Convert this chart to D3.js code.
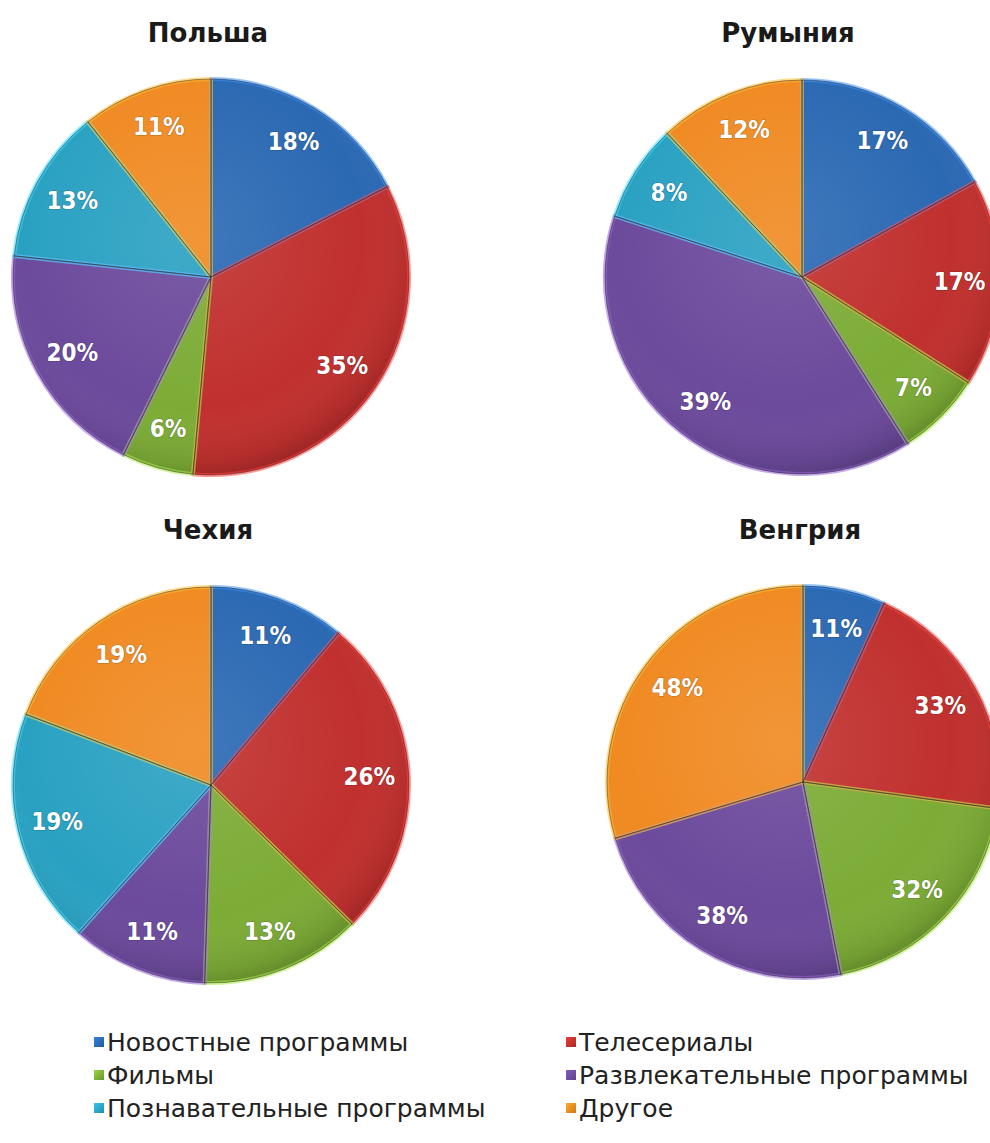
<!DOCTYPE html>
<html lang="ru">
<head>
<meta charset="utf-8">
<title>Структура телепросмотра</title>
<script src="https://cdn.jsdelivr.net/npm/d3@7"></script>
<style>
  html, body { margin: 0; padding: 0; background: #ffffff; }
  svg { display: block; }
</style>
</head>
<body>
<svg id="chart" width="990" height="1143"></svg>
<script>
// Жанры (порядок секторов по часовой стрелке от 12 часов)
const categories = [
  "Новостные программы",
  "Телесериалы",
  "Фильмы",
  "Развлекательные программы",
  "Познавательные программы",
  "Другое"
];
const categoryColors = ["#2b69b3", "#c0302e", "#7cac36", "#6c4a9c", "#2aa1c2", "#f08a22"];

const countries = ["Польша", "Румыния", "Чехия", "Венгрия"];

// Доли жанров, %
const polandValues  = [18, 35, 6, 20, 13, 11];
const romaniaValues = [17, 17, 7, 39, 8, 12];
const czechValues   = [11, 26, 13, 11, 19, 19];
const hungaryValues = [11, 33, 32, 38, 0, 48];

const seriesByCountry = [polandValues, romaniaValues, czechValues, hungaryValues];

// Расположение панелей
const panels = [
  { cx: 211, cy: 277, r: 198, tx: 208, ty: 42 },
  { cx: 802, cy: 277, r: 197, tx: 788, ty: 42 },
  { cx: 211, cy: 785, r: 198, tx: 208, ty: 539 },
  { cx: 803, cy: 782, r: 196, tx: 800, ty: 539 }
];

const svg = d3.select("#chart");
const defs = svg.append("defs");

// Общая подсветка/затенение круга
const shade = defs.append("radialGradient")
  .attr("id", "pieShade")
  .attr("cx", "45%").attr("cy", "40%").attr("r", "62%");
shade.append("stop").attr("offset", "0%").attr("stop-color", "#ffffff").attr("stop-opacity", 0.10);
shade.append("stop").attr("offset", "70%").attr("stop-color", "#ffffff").attr("stop-opacity", 0.0);
shade.append("stop").attr("offset", "92%").attr("stop-color", "#000000").attr("stop-opacity", 0.08);
shade.append("stop").attr("offset", "100%").attr("stop-color", "#000000").attr("stop-opacity", 0.22);

// Градиенты для маркеров легенды
categoryColors.forEach((c, i) => {
  const g = defs.append("linearGradient")
    .attr("id", "lg" + i).attr("x1", 0).attr("y1", 0).attr("x2", 1).attr("y2", 1);
  g.append("stop").attr("offset", "0%").attr("stop-color", d3.color(c).brighter(0.6));
  g.append("stop").attr("offset", "100%").attr("stop-color", d3.color(c).darker(0.4));
});

const color = d3.scaleOrdinal().domain(categories).range(categoryColors);

const pie = d3.pie().sort(null).value(d => d.value);

countries.forEach((name, k) => {
  const p = panels[k];
  const data = categories.map((c, i) => ({ category: c, value: seriesByCountry[k][i] }));
  const arcs = pie(data).filter(a => a.data.value > 0);

  const arc = d3.arc().innerRadius(0).outerRadius(p.r);
  const labelArc = d3.arc().innerRadius(p.r * 0.8).outerRadius(p.r * 0.8);

  const g = svg.append("g").attr("transform", `translate(${p.cx},${p.cy})`);

  // Основные сектора
  g.selectAll("path.slice")
    .data(arcs)
    .join("path")
    .attr("class", "slice")
    .attr("d", arc)
    .attr("fill", d => color(d.data.category));

  // Затенение всего круга
  g.append("circle").attr("r", p.r).attr("fill", "url(#pieShade)");

  // Светлая фаска по краям секторов
  g.selectAll("path.bevel")
    .data(arcs)
    .join("path")
    .attr("class", "bevel")
    .attr("d", arc)
    .attr("fill", "none")
    .attr("stroke", d => d3.color(color(d.data.category)).brighter(0.9))
    .attr("stroke-opacity", 0.55)
    .attr("stroke-width", 4)
    .attr("stroke-linejoin", "round");

  // Тонкие тёмные границы
  g.selectAll("path.edge")
    .data(arcs)
    .join("path")
    .attr("class", "edge")
    .attr("d", arc)
    .attr("fill", "none")
    .attr("stroke", "rgba(40,30,30,0.45)")
    .attr("stroke-width", 1);

  // Подписи процентов
  g.selectAll("text.pct")
    .data(arcs)
    .join("text")
    .attr("class", "pct")
    .attr("transform", d => `translate(${labelArc.centroid(d)})`)
    .attr("text-anchor", "middle")
    .attr("dominant-baseline", "central")
    .attr("font-family", "'DejaVu Sans Condensed', 'DejaVu Sans', sans-serif")
    .attr("font-weight", "bold")
    .attr("font-size", 24)
    .attr("fill", "#ffffff")
    .attr("stroke", "rgba(0,0,0,0.25)")
    .attr("stroke-width", 1.2)
    .attr("paint-order", "stroke")
    .text(d => d.data.value + "%");

  // Заголовок страны
  svg.append("text")
    .attr("x", p.tx).attr("y", p.ty)
    .attr("text-anchor", "middle")
    .attr("font-family", "'DejaVu Sans', sans-serif")
    .attr("font-weight", "bold")
    .attr("font-size", 26)
    .attr("fill", "#1a1a1a")
    .text(name);
});

// Легенда в две колонки
const legendCols = [94, 566];
const legendRows = [1042, 1075, 1108];
const legend = svg.append("g");
categories.forEach((c, i) => {
  const x = legendCols[i % 2];
  const y = legendRows[Math.floor(i / 2)];
  legend.append("rect")
    .attr("x", x).attr("y", y - 5).attr("width", 10).attr("height", 10)
    .attr("fill", "url(#lg" + i + ")");
  legend.append("text")
    .attr("x", x + 13).attr("y", y)
    .attr("dominant-baseline", "central")
    .attr("font-family", "'DejaVu Sans', sans-serif")
    .attr("font-size", 25)
    .attr("fill", "#222222")
    .text(c);
});
</script>
</body>
</html>
